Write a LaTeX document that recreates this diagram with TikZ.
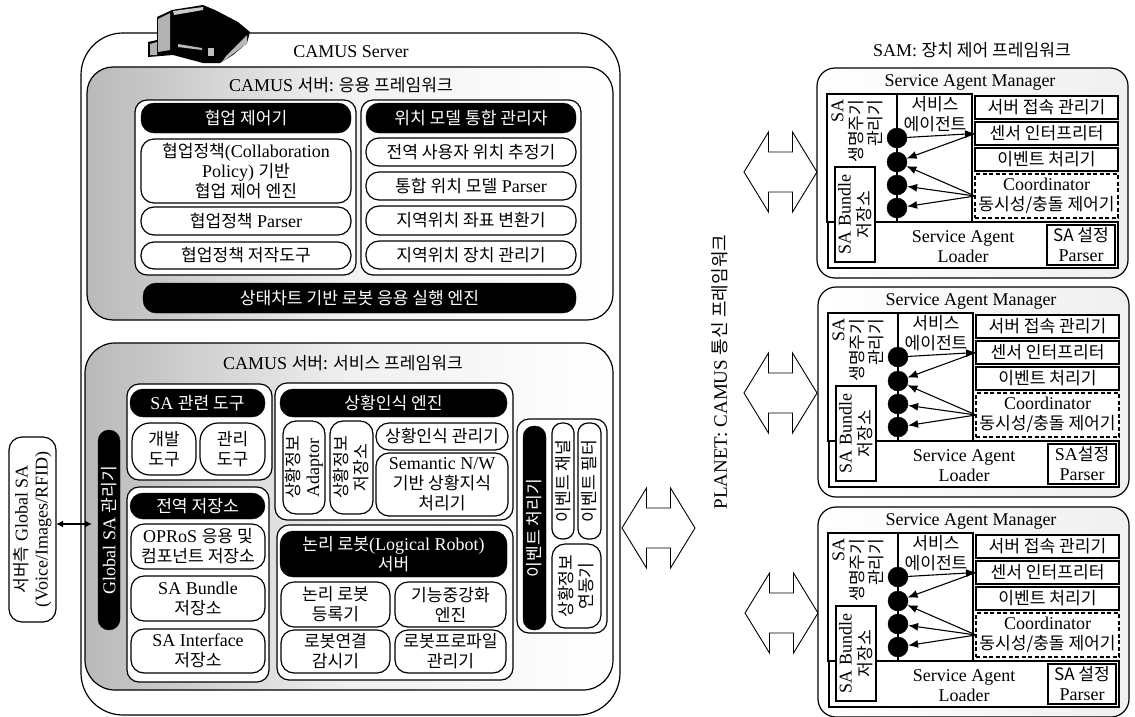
\documentclass[tikz,border=0pt]{standalone}
\usepackage{fontspec}
\setmainfont{Liberation Serif}
\newfontfamily\kr[Scale=0.95]{Noto Sans CJK KR}
\newcommand{\K}[1]{{\kr #1}}
\usetikzlibrary{arrows.meta,calc}
\tikzset{
  base/.style={inner sep=0pt,outer sep=0pt,align=center,font=\fontsize{18}{20}\selectfont},
  wbox/.style={base,draw=black,line width=1.2pt,fill=white,rounded corners=13pt},
  grp/.style={base,draw=black,line width=1.2pt,fill=white,rounded corners=12pt},
  pill/.style={base,draw=black,fill=black,text=white,rounded corners=13pt},
  sq/.style={base,draw=black,line width=1.2pt,fill=white},
  dsq/.style={base,draw=black,line width=1.4pt,dash pattern=on 4pt off 2.5pt,fill=white},
  lab/.style={base,text=black},
  dot/.style={circle,fill=black,draw=black,minimum size=20pt,inner sep=0pt},
  conn/.style={line width=1.1pt,-{Latex[length=10pt,width=8pt]}},
  bigarrow/.style={draw=black,line width=0.9pt,fill=white,line join=miter}
}
\newcommand{\bx}[7]{%
  \pgfmathsetmacro\bw{(#4)-(#2)}\pgfmathsetmacro\bh{(#5)-(#3)}%
  \node[#6,minimum width=\bw pt,minimum height=\bh pt] (#1) at ({((#2)+(#4))/2},{((#3)+(#5))/2}) {#7};}
\newcommand{\vbx}[7]{%
  \pgfmathsetmacro\bw{(#4)-(#2)}\pgfmathsetmacro\bh{(#5)-(#3)}%
  \node[#6,rotate=90,minimum width=\bh pt,minimum height=\bw pt] (#1) at ({((#2)+(#4))/2},{((#3)+(#5))/2}) {#7};}
\newcommand{\dbl}[2]{%
  \draw[bigarrow,shift={(#1,#2)}] (-36.5,0)--(-12,-40)--(-12,-20)--(12,-20)--(12,-40)--(36.5,0)--(12,40)--(12,20)--(-12,20)--(-12,40)--cycle;}
\newcommand{\panel}[5]{%
\begin{scope}[shift={(#2,#3)}]
  \bx{#1out}{816+#4}{68}{1128}{278}{base,draw=black,line width=1.2pt,rounded corners=18pt,left color=white,right color=gray!12}{}
  \node[lab] (#1sam) at (970,82) {Service Agent Manager};
  \bx{#1ub}{827}{94}{972}{222}{sq}{}
  \node[lab] (#1agent) at (935,114) {\K{서비스}\\\K{에이전트}};
  \node[lab,rotate=90,align=right] (#1life) at (857,131) {SA\\[-1pt]\K{생명주기}\\[-1pt]\K{관리기}};
  \bx{#1s1}{975}{96}{1118}{119}{sq}{\K{서버 접속 관리기}}
  \bx{#1s2}{975}{122}{1118}{145}{sq}{\K{센서 인터프리터}}
  \bx{#1s3}{975}{148}{1118}{171}{sq}{\K{이벤트 처리기}}
  \bx{#1co}{975}{174}{1118}{218}{dsq}{Coordinator\\\K{동시성/충돌 제어기}}
  \bx{#1lo}{828}{222}{1118}{268}{sq}{}
  \node[lab] (#1lt) at (963,247) {Service Agent\\Loader};
  \vbx{#1bu}{835}{167}{875}{262}{sq}{SA Bundle\\\K{저장소}}
  \bx{#1pa}{1047}{225}{1115}{265}{sq}{#5\\Parser}
  \draw[line width=1.1pt] (#1ub.north -| 897,0) -- (#1lo.north -| 897,0);
  \node[dot] (#1c1) at (897,138) {};
  \node[dot] (#1c2) at (897,162) {};
  \node[dot] (#1c3) at (897,185) {};
  \node[dot] (#1c4) at (897,208) {};
  \draw[conn] (#1c1) -- (#1s2.west);
  \draw[conn] (#1s2.west) -- (#1c2);
  \draw[conn] (#1co.west) -- (#1c2);
  \draw[conn] (#1co.west) -- (#1c3);
  \draw[conn] (#1co.west) -- (#1c4);
\end{scope}}
\begin{document}
\begin{tikzpicture}[x=1pt,y=-1pt]
\useasboundingbox (0,0) rectangle (1135,716);
% main frames
\bx{server}{81}{33}{620}{715}{base,draw=black,line width=1.2pt,fill=white,rounded corners=42pt}{}
\bx{app}{87}{67}{613}{320}{base,draw=black,line width=1.2pt,rounded corners=26pt,left color=gray!55,right color=white,middle color=gray!10}{}
\bx{svc}{85}{343}{613}{690}{base,draw=black,line width=1.2pt,rounded corners=30pt,left color=gray!55,right color=white,middle color=gray!12}{}
\node[lab] (servertitle) at (351,52) {CAMUS Server};
\node[lab] (apptitle) at (341,85) {CAMUS \K{서버: 응용 프레임워크}};
\node[lab] (svctitle) at (343,363) {CAMUS \K{서버: 서비스 프레임워크}};
% server icon
\fill[black] (157,17)--(172,10)--(203,5)--(215,10)--(238,22)--(250,32)--(247,43)--(233,55)--(220,63)--(203,63)--(173,55)--(148,57)--(148,42)--(157,40)--cycle;
\fill[gray!60] (158,19)--(170,13)--(170,50)--(158,52)--cycle;
\fill[gray!40] (173,11)--(203,7)--(203,10)--(174,15)--cycle;
\fill[gray!60] (150,44)--(157,42)--(157,55)--(150,55)--cycle;
\fill[gray!55] (226,56)--(247,35)--(247,43)--(233,54)--(222,62)--cycle;
\fill[gray!55] (178,44)--(202,48)--(202,50)--(178,47)--cycle;
\fill[gray!50] (208,48)--(214,48)--(214,56)--(208,56)--cycle;
% application framework: left group
\bx{g1}{135}{100}{356}{275}{grp}{}
\bx{h1}{141}{103}{351}{133}{pill}{\K{협업 제어기}}
\bx{a1}{141}{139}{351}{203}{wbox}{\K{협업정책}(Collaboration\\Policy) \K{기반}\\\K{협업 제어 엔진}}
\bx{a2}{141}{207}{351}{235}{wbox}{\K{협업정책} Parser}
\bx{a3}{141}{242}{351}{269}{wbox}{\K{협업정책 저작도구}}
% right group
\bx{g2}{361}{100}{581}{275}{grp}{}
\bx{h2}{366}{103}{576}{133}{pill}{\K{위치 모델 통합 관리자}}
\bx{b1}{366}{138}{576}{166}{wbox}{\K{전역 사용자 위치 추정기}}
\bx{b2}{366}{172}{576}{200}{wbox}{\K{통합 위치 모델} Parser}
\bx{b3}{366}{206}{576}{235}{wbox}{\K{지역위치 좌표 변환기}}
\bx{b4}{366}{241}{576}{269}{wbox}{\K{지역위치 장치 관리기}}
\bx{h3}{143}{283}{576}{313}{pill}{\K{상태차트 기반 로봇 응용 실행 엔진}}
% service framework
\vbx{gsam}{98}{430}{120}{630}{pill,rounded corners=11pt}{Global SA \K{관리기}}
\vbx{gsa}{9}{437}{56}{622}{wbox}{\K{서버측} Global SA\\(Voice/Images/RFID)}
\coordinate (gaend) at (92,524);
\draw[line width=1.3pt,{Latex[length=7pt,width=7pt]}-{Latex[length=7pt,width=7pt]}] (gsa.south |- gaend) -- (gaend);
% SA tools
\bx{g3}{127}{384}{272}{480}{grp}{}
\bx{h4}{130}{389}{265}{417}{pill}{SA \K{관련 도구}}
\bx{c1}{132}{423}{196}{475}{wbox,rounded corners=18pt}{\K{개발}\\\K{도구}}
\bx{c2}{200}{423}{265}{475}{wbox,rounded corners=18pt}{\K{관리}\\\K{도구}}
% global repository
\bx{g4}{127}{487}{269}{682}{grp}{}
\bx{h5}{130}{493}{265}{519}{pill}{\K{전역 저장소}}
\bx{d1}{131}{524}{265}{569}{wbox}{OPRoS \K{응용 및}\\\K{컴포넌트 저장소}}
\bx{d2}{131}{576}{265}{621}{wbox}{SA Bundle\\\K{저장소}}
\bx{d3}{131}{629}{265}{673}{wbox}{SA Interface\\\K{저장소}}
% context engine
\bx{g5}{275}{383}{513}{520}{grp}{}
\bx{h6}{280}{389}{507}{417}{pill}{\K{상황인식 엔진}}
\vbx{e1}{283}{421}{325}{514}{wbox}{\K{상황정보}\\Adaptor}
\vbx{e2}{330}{421}{373}{514}{wbox}{\K{상황정보}\\\K{저장소}}
\bx{e3}{376}{423}{508}{450}{wbox}{\K{상황인식 관리기}}
\bx{e4}{376}{453}{508}{516}{wbox}{Semantic N/W\\\K{기반 상황지식}\\\K{처리기}}
% logical robot
\bx{g6}{277}{525}{513}{680}{grp}{}
\bx{h7}{280}{531}{507}{577}{pill}{\K{논리 로봇}(Logical Robot)\\\K{서버}}
\bx{f1}{281}{582}{390}{627}{wbox}{\K{논리 로봇}\\\K{등록기}}
\bx{f2}{395}{582}{506}{627}{wbox}{\K{기능중강화}\\\K{엔진}}
\bx{f3}{281}{630}{390}{673}{wbox}{\K{로봇연결}\\\K{감시기}}
\bx{f4}{395}{630}{506}{673}{wbox}{\K{로봇프로파일}\\\K{관리기}}
% event group
\bx{g7}{517}{419}{607}{633}{grp}{}
\vbx{h8}{523}{426}{546}{630}{pill,rounded corners=11pt}{\K{이벤트 처리기}}
\vbx{i1}{552}{423}{574}{539}{wbox,rounded corners=10pt}{\K{이벤트 채널}}
\vbx{i2}{578}{423}{601}{539}{wbox,rounded corners=10pt}{\K{이벤트 필터}}
\vbx{i3}{552}{544}{601}{628}{wbox}{\K{상황정보}\\\K{연동기}}
% big arrows
\dbl{658.5}{528}
\dbl{780.5}{172}
\dbl{780.5}{393}
\dbl{781.5}{613}
\node[lab,rotate=90,font=\fontsize{19}{20}\selectfont] (planet) at (720,372) {PLANET: CAMUS \K{통신 프레임워크}};
\node[lab] (samtitle) at (972,50) {SAM: \K{장치 제어 프레임워크}};
\panel{p}{0}{0}{1}{\K{SA 설정}}
\panel{q}{1}{219}{1}{SA\K{설정}}
\panel{r}{1}{439}{1}{\K{SA 설정}}
\end{tikzpicture}
\end{document}
